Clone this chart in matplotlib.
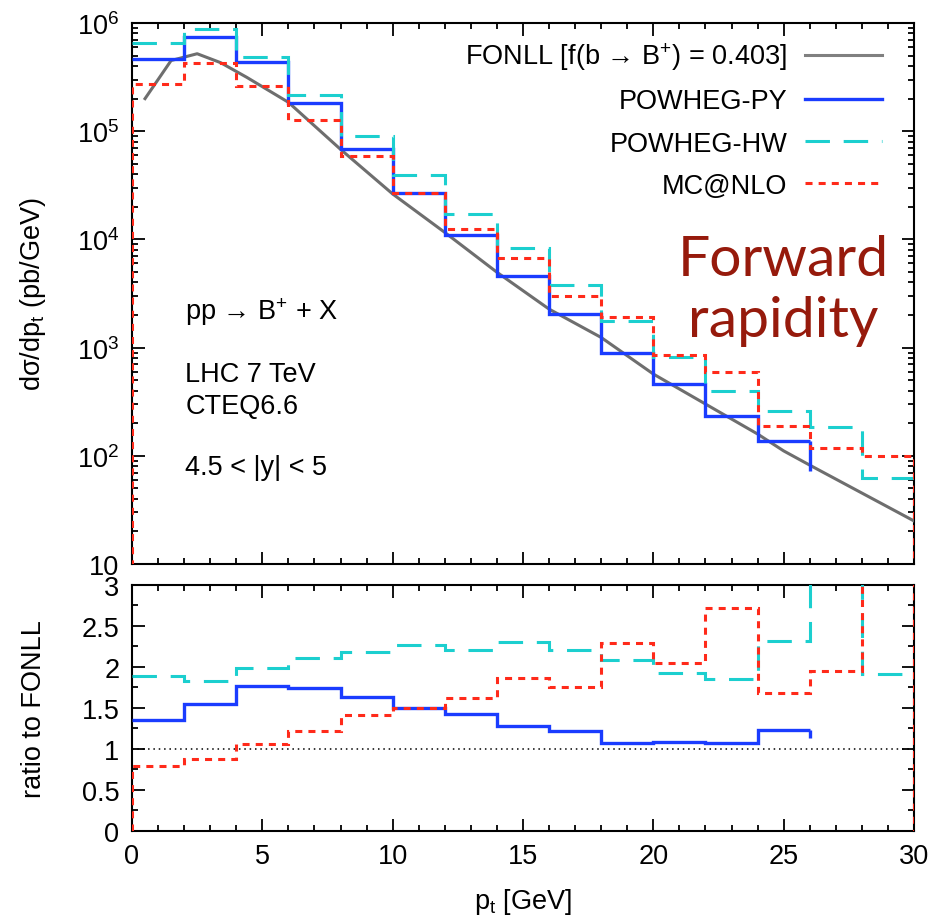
import matplotlib.pyplot as plt
import matplotlib.ticker as ticker
from matplotlib.lines import Line2D
import numpy as np

plt.rcParams['font.family'] = ['Liberation Sans', 'DejaVu Sans']
plt.rcParams['mathtext.fontset'] = 'custom'
plt.rcParams['mathtext.rm'] = 'Liberation Sans'
plt.rcParams['mathtext.it'] = 'Liberation Sans:italic'
plt.rcParams['mathtext.sf'] = 'Liberation Sans'

# bin edges (GeV)
edges = np.arange(0, 31, 2)
edges_py = np.arange(0, 27, 2)

# FONLL curve, pb/GeV
fonll_pt = [0.5, 1.5, 2.5, 3.4, 4.4, 6, 8, 10, 12, 14, 16, 18, 20, 22, 24, 25, 26, 30]
fonll_xs = [2.0e5, 4.5e5, 5.2e5, 4.3e5, 3.15e5, 1.85e5, 6.8e4, 2.63e4, 1.16e4, 4.97e3,
            2.27e3, 1.24e3, 570, 301, 159, 111, 82, 25]

# histograms, pb/GeV
py_xs = [4.6e5, 7.4e5, 4.4e5, 1.81e5, 6.8e4, 2.67e4, 1.1e4, 4.6e3, 2.05e3, 885, 458, 233, 138]
py_tail = 72
hw_xs = [6.5e5, 8.8e5, 4.9e5, 2.16e5, 9.1e4, 3.96e4, 1.72e4, 8.3e3, 3.8e3, 1.75e3, 825, 400,
         257, 186, 63]
mc_xs = [2.73e5, 4.24e5, 2.64e5, 1.27e5, 5.9e4, 2.67e4, 1.25e4, 6.7e3, 2.98e3, 1.9e3, 860, 592,
         190, 117, 100]

# ratios to FONLL
py_ratio = [1.35, 1.55, 1.76, 1.74, 1.63, 1.50, 1.42, 1.28, 1.21, 1.07, 1.08, 1.07, 1.23]
py_ratio_tail = 1.13
hw_ratio = [1.89, 1.83, 1.99, 2.10, 2.18, 2.26, 2.20, 2.30, 2.20, 2.08, 1.92, 1.85, 2.31, 3.3, 1.91]
mc_ratio = [0.79, 0.87, 1.06, 1.21, 1.41, 1.50, 1.62, 1.86, 1.75, 2.29, 2.05, 2.72, 1.68, 1.95, 3.3]

c_fonll = '#6e6e6e'
c_py = '#1a3cff'
c_hw = '#1ccfcf'
c_mc = '#ff2a1a'
ls_hw = (0, (8, 4.5))
ls_mc = (0, (2.3, 2.0))
fs = 19.5

fig = plt.figure(figsize=(9.46, 9.2), dpi=100)
ax1 = fig.add_axes([0.13953, 0.38587, 0.82664, 0.58804])
ax2 = fig.add_axes([0.13953, 0.09598, 0.82664, 0.26739])

# ---- top panel
ax1.plot(fonll_pt, fonll_xs, color=c_fonll, lw=2.2, zorder=3)
ax1.stairs(py_xs, edges_py, baseline=None, color=c_py, lw=2.4, zorder=3)
ax1.vlines(edges_py[-1], py_tail, py_xs[-1], color=c_py, lw=2.4, zorder=3)
ax1.stairs(hw_xs, edges, baseline=None, color=c_hw, lw=2.2, linestyle=ls_hw, zorder=3)
ax1.stairs(mc_xs, edges, baseline=1, color=c_mc, lw=2.2, linestyle=ls_mc, zorder=3)

ax1.set_yscale('log')
ax1.set_xlim(0, 30)
ax1.set_ylim(10, 1e6)
ax1.yaxis.set_major_locator(ticker.LogLocator(base=10, numticks=10))
ax1.yaxis.set_minor_locator(ticker.LogLocator(base=10, subs=np.arange(2, 10), numticks=20))
ax1.yaxis.set_major_formatter(ticker.FuncFormatter(
    lambda v, p: '10' if abs(v - 10) < 1e-6 else r'$10^{%d}$' % round(np.log10(v))))
ax1.yaxis.set_minor_formatter(ticker.NullFormatter())
ax1.xaxis.set_major_locator(ticker.MultipleLocator(5))
ax1.xaxis.set_minor_locator(ticker.MultipleLocator(1))
ax1.tick_params(labelbottom=False)
ax1.set_ylabel('dσ/dp$_{\\rm t}$ (pb/GeV)', fontsize=fs)

handles = [Line2D([], [], color='#808080', lw=2.2),
           Line2D([], [], color=c_py, lw=2.4),
           Line2D([], [], color=c_hw, lw=2.2, linestyle=ls_hw),
           Line2D([], [], color=c_mc, lw=2.2, linestyle=ls_mc)]
labels = ['FONLL [f(b → B$^{+}$) = 0.403]', 'POWHEG-PY', 'POWHEG-HW', 'MC@NLO']
ax1.legend(handles, labels, loc='upper right', bbox_to_anchor=(0.959, 0.968), frameon=False,
           markerfirst=False, handlelength=2.85, handletextpad=0.65, labelspacing=0.6,
           fontsize=fs, borderpad=0, borderaxespad=0)

ax1.text(0.068, 0.453, 'pp → B$^{+}$ + X', transform=ax1.transAxes, fontsize=fs, va='baseline')
ax1.text(0.068, 0.339, 'LHC 7 TeV', transform=ax1.transAxes, fontsize=fs, va='baseline')
ax1.text(0.068, 0.280, 'CTEQ6.6', transform=ax1.transAxes, fontsize=fs, va='baseline')
ax1.text(0.068, 0.166, '4.5 < |y| < 5', transform=ax1.transAxes, fontsize=fs, va='baseline')

ax1.text(0.8325, 0.534, 'Forward', transform=ax1.transAxes, fontsize=41, color='#961a0c',
         ha='center', va='baseline', family=['Lato', 'DejaVu Sans'])
ax1.text(0.8325, 0.421, 'rapidity', transform=ax1.transAxes, fontsize=41, color='#961a0c',
         ha='center', va='baseline', family=['Lato', 'DejaVu Sans'])

# ---- ratio panel
ax2.axhline(1, color='k', lw=1.1, linestyle=(0, (1, 2.5)), zorder=2)
ax2.stairs(py_ratio, edges_py, baseline=None, color=c_py, lw=2.4, zorder=3)
ax2.vlines(edges_py[-1], py_ratio_tail, py_ratio[-1], color=c_py, lw=2.4, zorder=3)
ax2.stairs(hw_ratio, edges, baseline=None, color=c_hw, lw=2.2, linestyle=ls_hw, zorder=3)
ax2.stairs(mc_ratio, edges, baseline=0, color=c_mc, lw=2.2, linestyle=ls_mc, zorder=3)

ax2.set_xlim(0, 30)
ax2.set_ylim(0, 3)
ax2.xaxis.set_major_locator(ticker.MultipleLocator(5))
ax2.xaxis.set_minor_locator(ticker.MultipleLocator(1))
ax2.yaxis.set_major_locator(ticker.MultipleLocator(0.5))
ax2.yaxis.set_minor_locator(ticker.MultipleLocator(0.25))
fmt = ticker.FuncFormatter(lambda v, p: '%g' % v)
ax2.xaxis.set_major_formatter(fmt)
ax2.yaxis.set_major_formatter(fmt)
ax2.set_ylabel('ratio to FONLL', fontsize=fs)
ax2.set_xlabel('p$_{\\rm t}$ [GeV]', fontsize=fs, labelpad=12)

for ax in (ax1, ax2):
    ax.tick_params(which='both', direction='in', top=True, right=True, labelsize=fs, width=1.3)
    ax.tick_params(which='major', length=9, pad=9)
    ax.tick_params(which='minor', length=4.5)
    for s in ax.spines.values():
        s.set_linewidth(1.5)

ax1.yaxis.set_label_coords(-0.107, 0.5)
ax2.yaxis.set_label_coords(-0.109, 0.5)

fig.savefig('out.png', dpi=100)
